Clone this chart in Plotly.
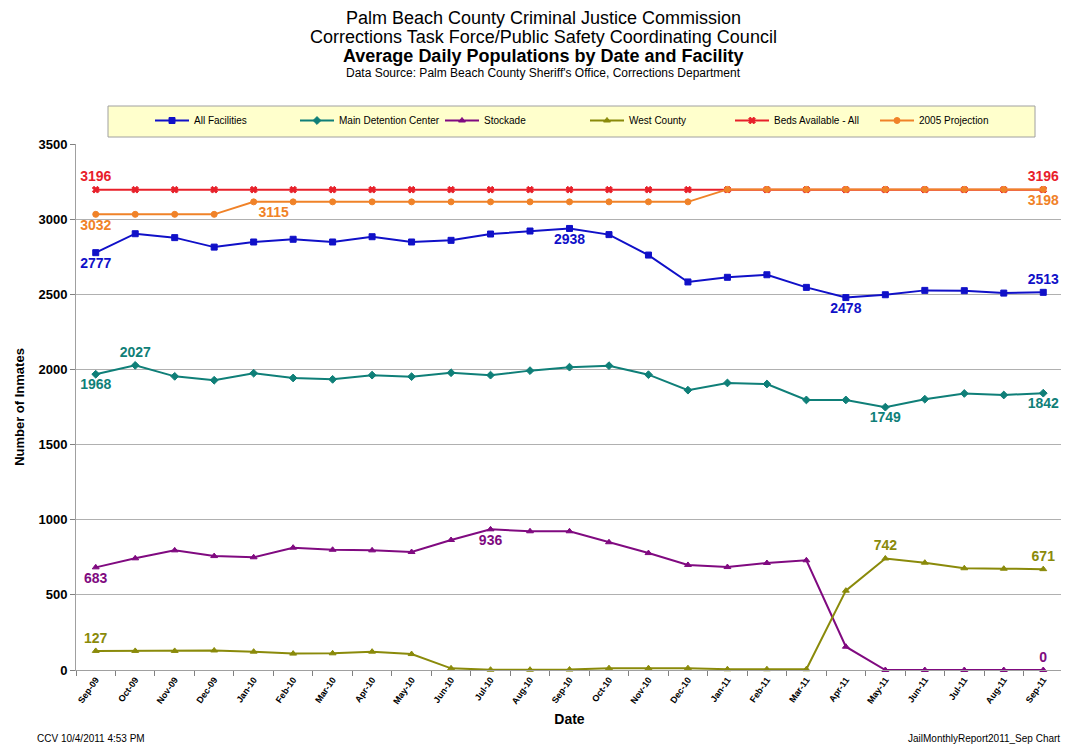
import plotly.graph_objects as go

months = ["Sep-09", "Oct-09", "Nov-09", "Dec-09", "Jan-10", "Feb-10", "Mar-10", "Apr-10", "May-10",
          "Jun-10", "Jul-10", "Aug-10", "Sep-10", "Oct-10", "Nov-10", "Dec-10", "Jan-11", "Feb-11",
          "Mar-11", "Apr-11", "May-11", "Jun-11", "Jul-11", "Aug-11", "Sep-11"]

all_facilities = [2777, 2903, 2877, 2814, 2848, 2866, 2848, 2883, 2848, 2859, 2901, 2921, 2938,
                  2897, 2761, 2582, 2613, 2630, 2546, 2478, 2497, 2526, 2524, 2508, 2513]
main_detention = [1968, 2027, 1954, 1928, 1975, 1943, 1934, 1962, 1952, 1978, 1962, 1992, 2015,
                  2025, 1965, 1862, 1910, 1903, 1797, 1797, 1749, 1802, 1840, 1830, 1842]
stockade = [683, 743, 796, 758, 750, 814, 800, 796, 785, 865, 936, 923, 923,
            850, 778, 699, 685, 712, 730, 155, 0, 0, 0, 0, 0]
west_county = [127, 127, 127, 130, 122, 109, 111, 122, 106, 11, 2, 2, 3,
               12, 12, 12, 5, 5, 5, 528, 742, 714, 677, 674, 671]
beds_available = [3196] * 25
projection_2005 = [3032] * 4 + [3115] * 12 + [3198] * 9

series = [
    ("All Facilities", all_facilities, "#1010C8", "square",
     {0: "bottom center", 12: "bottom center", 19: "bottom center", 24: "top center"}),
    ("Main Detention Center", main_detention, "#0F7F78", "diamond",
     {0: "bottom center", 1: "top center", 20: "bottom center", 24: "bottom center"}),
    ("Stockade", stockade, "#800A80", "triangle-up",
     {0: "bottom center", 10: "bottom center", 24: "top center"}),
    ("West County", west_county, "#8A8A0A", "triangle-up",
     {0: "top center", 20: "top center", 24: "top center"}),
    ("Beds Available - All", beds_available, "#E8202A", "x",
     {0: "top center", 24: "top center"}),
    ("2005 Projection", projection_2005, "#F08228", "circle",
     {0: "bottom center", 4: "bottom right", 24: "bottom center"}),
]

font_family = "Arial, Liberation Sans, sans-serif"
fig = go.Figure()
for name, vals, color, symbol, labels in series:
    texts = [str(v) if i in labels else "" for i, v in enumerate(vals)]
    positions = [labels.get(i, "top center") for i in range(len(vals))]
    fig.add_trace(go.Scatter(
        x=months, y=vals, name=name, mode="lines+markers+text",
        line=dict(color=color, width=2),
        marker=dict(color=color, symbol=symbol, size=6, line=dict(color=color, width=1)),
        text=texts, textposition=positions,
        textfont=dict(color=color, size=14, family=font_family, weight="bold"),
        cliponaxis=False,
    ))

# page is offset by the 8px body margin, so figure coords = page coords - 8
OFF = 8
PL, PT, PR, PB = 76 - OFF, 144 - OFF, 1063 - OFF, 670 - OFF
W, H = 1055, 741
PW, PH = PR - PL, PB - PT


def px_x(x):
    return (x - OFF - PL) / PW


def px_y(y):
    return (PB - (y - OFF)) / PH


fig.update_layout(
    width=W, height=H,
    margin=dict(l=PL, r=W - PR, t=PT, b=H - PB),
    paper_bgcolor="white", plot_bgcolor="white",
    font=dict(family=font_family, color="black"),
    showlegend=True,
    legend=dict(orientation="h", x=px_x(585), xanchor="center", y=px_y(106), yanchor="top",
                bgcolor="rgba(0,0,0,0)", borderwidth=0,
                font=dict(size=10, family=font_family), entrywidth=96,
                itemwidth=34, tracegroupgap=0),
    xaxis=dict(type="category", tickangle=-55, tickson="boundaries", ticks="outside",
               ticklen=5, tickcolor="#808080", showline=True, linecolor="#A0A0A0",
               linewidth=1, showgrid=False, range=[-0.5, 24.5],
               tickfont=dict(size=9, family=font_family, weight="bold"),
               title=dict(text="<b>Date</b>", font=dict(size=14), standoff=9)),
    yaxis=dict(range=[0, 3500], dtick=500, showgrid=True, gridcolor="#B0B0B0",
               gridwidth=1, showline=True, linecolor="#A0A0A0", linewidth=1,
               ticks="outside", ticklen=5, tickcolor="#808080", zeroline=False,
               tickfont=dict(size=13, family=font_family, weight="bold"),
               title=dict(text="<b>Number of Inmates</b>", font=dict(size=13), standoff=10)),
    shapes=[dict(type="rect", xref="paper", yref="paper",
                 x0=px_x(108), x1=px_x(1035), y0=px_y(137), y1=px_y(106),
                 fillcolor="#FFFFCC", line=dict(color="#A0A0A0", width=1), layer="below")],
)

title_lines = [
    ("Palm Beach County Criminal Justice Commission", 18, 18),
    ("Corrections Task Force/Public Safety Coordinating Council", 18, 37),
    ("<b>Average Daily Populations by Date and Facility</b>", 18, 56),
    ("Data Source: Palm Beach County Sheriff's Office, Corrections Department", 12, 73),
]
for text, size, ypx in title_lines:
    fig.add_annotation(text=text, xref="paper", yref="paper",
                       x=px_x(543), y=px_y(ypx),
                       showarrow=False, font=dict(size=size, family=font_family),
                       xanchor="center", yanchor="middle")

fig.add_annotation(text="CCV 10/4/2011 4:53 PM", xref="paper", yref="paper",
                   x=px_x(35), y=px_y(738), xanchor="left", yanchor="middle",
                   showarrow=False, font=dict(size=10, family=font_family))
fig.add_annotation(text="JailMonthlyReport2011_Sep Chart", xref="paper", yref="paper",
                   x=px_x(1062), y=px_y(738), xanchor="right", yanchor="middle",
                   showarrow=False, font=dict(size=10, family=font_family))

fig.write_html("out.html")
